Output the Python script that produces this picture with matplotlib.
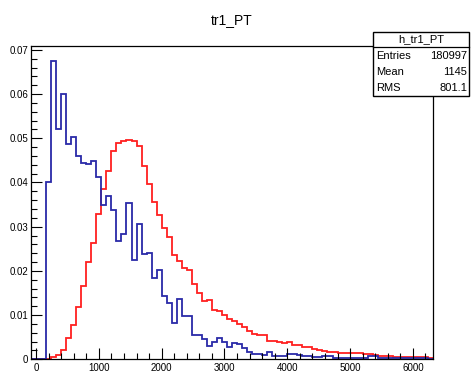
import numpy as np
import matplotlib
matplotlib.use("Agg")
import matplotlib.pyplot as plt
from matplotlib.patches import Rectangle
from matplotlib.lines import Line2D
from matplotlib.ticker import MultipleLocator, FuncFormatter

plt.rcParams['font.family'] = ['Liberation Sans Narrow', 'Liberation Sans', 'DejaVu Sans']

# histogram binning: 80 bins of width 80 from -80 to 6320
bin_edges = np.arange(-80, 6321, 80)

# blue histogram (normalised)
blue_vals = [
    0, 0, 0, 0.0402, 0.0676, 0.0521, 0.0600, 0.0488, 0.0502, 0.0460,
    0.0445, 0.0441, 0.0449, 0.0413, 0.0349, 0.0369, 0.0338, 0.0268, 0.0283, 0.0354,
    0.0225, 0.0307, 0.0238, 0.0241, 0.0185, 0.0201, 0.0144, 0.0127, 0.0081, 0.0136,
    0.0099, 0.0099, 0.0056, 0.0055, 0.0045, 0.0030, 0.0040, 0.0049, 0.0040, 0.0027,
    0.0037, 0.0035, 0.0025, 0.0016, 0.0013, 0.0011, 0.0010, 0.0016, 0.0007, 0.0007,
    0.0007, 0.0011, 0.0011, 0.0010, 0.0008, 0.0008, 0.0005, 0.0006, 0.0008, 0.0008,
    0.0003, 0.0002, 0.0002, 0.0002, 0.0002, 0.0002, 0.0003, 0.0008, 0.0007, 0.0003,
    0.0002, 0.0002, 0.0003, 0.0002, 0.0002, 0.0002, 0.0003, 0.0002, 0.0002, 0.0001,
]

# red histogram (normalised)
red_vals = [
    0, 0, 0, 0, 0.0005, 0.0010, 0.0021, 0.0048, 0.0078, 0.0119,
    0.0165, 0.0221, 0.0263, 0.0329, 0.0385, 0.0425, 0.0472, 0.0489, 0.0495, 0.0497,
    0.0493, 0.0482, 0.0437, 0.0397, 0.0356, 0.0327, 0.0296, 0.0276, 0.0236, 0.0223,
    0.0206, 0.0201, 0.0170, 0.0149, 0.0133, 0.0134, 0.0112, 0.0110, 0.0100, 0.0092,
    0.0086, 0.0080, 0.0074, 0.0063, 0.0057, 0.0055, 0.0054, 0.0042, 0.0041, 0.0040,
    0.0037, 0.0040, 0.0033, 0.0032, 0.0028, 0.0027, 0.0023, 0.0021, 0.0019, 0.0017,
    0.0016, 0.0015, 0.0015, 0.0014, 0.0014, 0.0014, 0.0012, 0.0011, 0.0010, 0.0008,
    0.0007, 0.0007, 0.0006, 0.0006, 0.0006, 0.0006, 0.0006, 0.0006, 0.0006, 0.0003,
]

stats_labels = ["Entries", "Mean", "RMS"]
stats_values = ["180997", "1145", "801.1"]

W, H = 471, 374
fig = plt.figure(figsize=(W / 100, H / 100), dpi=100)
ax = fig.add_axes([31 / W, (H - 359.3) / H, 402 / W, 313.6 / H])

ax.stairs(red_vals, bin_edges, color="#ff2020", linewidth=1.3)
ax.stairs(blue_vals, bin_edges, color="#2a2aa8", linewidth=1.3)

ax.set_xlim(-80, 6320)
ax.set_ylim(0, 0.07095)

# ROOT-like axes: inward ticks on bottom and left only
ax.xaxis.set_major_locator(MultipleLocator(1000))
ax.xaxis.set_minor_locator(MultipleLocator(200))
ax.yaxis.set_major_locator(MultipleLocator(0.01))
ax.yaxis.set_minor_locator(MultipleLocator(0.002))
ax.yaxis.set_major_formatter(FuncFormatter(lambda v, p: f"{v:g}"))
ax.xaxis.set_major_formatter(FuncFormatter(lambda v, p: f"{v:g}"))
ax.tick_params(which="both", direction="in", top=False, right=False,
               labelsize=7, width=0.8, colors="black")
ax.tick_params(which="major", length=8)
ax.tick_params(which="minor", length=4.3)
ax.tick_params(axis="x", pad=3)
ax.tick_params(axis="y", pad=2)
for sp in ax.spines.values():
    sp.set_linewidth(0.9)
    sp.set_color("black")

# title
fig.text(232 / W, 1 - 20 / H, "tr1_PT", ha="center", va="center", fontsize=10)

# stats box
x0, x1, y0, y1 = 373, 469, 32, 96
fig.patches.append(Rectangle((x0 / W, 1 - y1 / H), (x1 - x0) / W, (y1 - y0) / H,
                             transform=fig.transFigure, facecolor="white",
                             edgecolor="black", linewidth=1.0, zorder=5))
fig.lines.append(Line2D([x0 / W, x1 / W], [1 - 47 / H, 1 - 47 / H],
                        transform=fig.transFigure, color="black", linewidth=0.9, zorder=6))
fig.text((x0 + x1) / 2 / W, 1 - 39.5 / H, "h_tr1_PT", ha="center", va="center",
         fontsize=8, zorder=7)
for i, (lab, val) in enumerate(zip(stats_labels, stats_values)):
    yy = 1 - (56 + 16 * i) / H
    fig.text((x0 + 3) / W, yy, lab, ha="left", va="center", fontsize=8, zorder=7)
    fig.text((x1 - 2) / W, yy, val, ha="right", va="center", fontsize=8, zorder=7)

fig.savefig("out.png", dpi=100)
